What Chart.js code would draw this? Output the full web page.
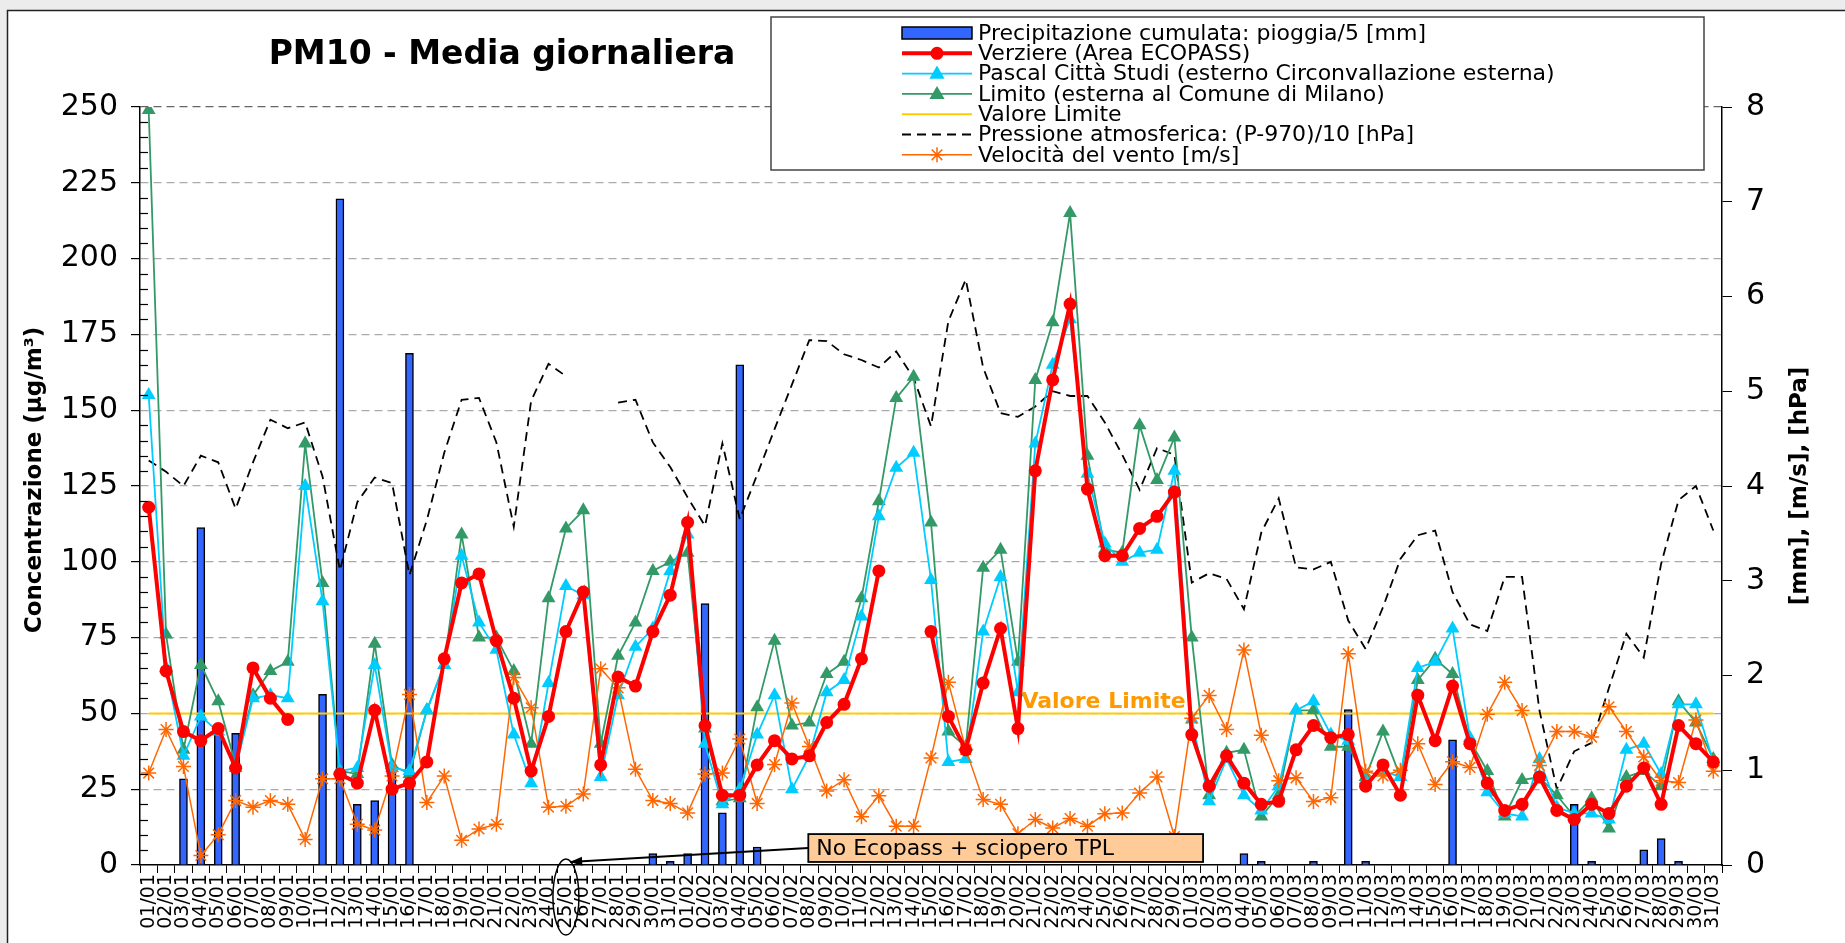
<!DOCTYPE html>
<html>
<head>
<meta charset="utf-8">
<title>PM10 - Media giornaliera</title>
<script src="https://cdn.jsdelivr.net/npm/chart.js@4.4.1/dist/chart.umd.min.js"></script>
<style>
  html, body { margin: 0; padding: 0; background: #ececec; overflow: hidden; }
  canvas { display: block; }
</style>
</head>
<body>
<canvas id="pm10Chart" width="1845" height="943"></canvas>
<script>
// Giorni (01/01 - 31/03/2008)
const giorni = [
  '01/01','02/01','03/01','04/01','05/01','06/01','07/01','08/01','09/01','10/01',
  '11/01','12/01','13/01','14/01','15/01','16/01','17/01','18/01','19/01','20/01',
  '21/01','22/01','23/01','24/01','25/01','26/01','27/01','28/01','29/01','30/01','31/01',
  '01/02','02/02','03/02','04/02','05/02','06/02','07/02','08/02','09/02','10/02',
  '11/02','12/02','13/02','14/02','15/02','16/02','17/02','18/02','19/02','20/02',
  '21/02','22/02','23/02','24/02','25/02','26/02','27/02','28/02','29/02',
  '01/03','02/03','03/03','04/03','05/03','06/03','07/03','08/03','09/03','10/03',
  '11/03','12/03','13/03','14/03','15/03','16/03','17/03','18/03','19/03','20/03',
  '21/03','22/03','23/03','24/03','25/03','26/03','27/03','28/03','29/03','30/03','31/03'
];

// Precipitazione cumulata: pioggia/5 [mm] (asse destro)
const pioggia = [
  null, null, 0.91, 3.56, 1.48, 1.39, null, null, null, null,
  1.80, 7.03, 0.64, 0.68, 1.0, 5.40, null, null, null, null,
  null, null, null, null, null, null, null, null, null, 0.12,
  0.04, 0.12, 2.76, 0.55, 5.28, 0.19, null, null, null, null,
  null, null, null, null, null, null, null, null, null, null,
  null, null, null, null, null, null, null, null, null, null,
  null, null, null, 0.12, 0.04, null, null, 0.04, null, 1.64,
  0.04, null, null, null, null, 1.32, null, null, null, null,
  null, null, 0.64, 0.04, null, null, 0.16, 0.28, 0.04, null,
  null
];

// PM10 [µg/m3]
const verziere = [
  118, 64, 44, 41, 45, 32, 65, 55, 48, null,
  null, 30, 27, 51, 25, 27, 34, 68, 93, 96,
  74, 55, 31, 49, 77, 90, 33, 62, 59, 77,
  89, 113, 46, 23, 23, 33, 41, 35, 36, 47,
  53, 68, 97, null, null, 77, 49, 38, 60, 78,
  45, 130, 160, 185, 124, 102, 102, 111, 115, 123,
  43, 26, 36, 27, 20, 21, 38, 46, 42, 43,
  26, 33, 23, 56, 41, 59, 40, 27, 18, 20,
  29, 18, 15, 20, 17, 26, 32, 20, 46, 40,
  34
];
const pascal = [
  155, 65, 36, 49, 44, 32, 55, 56, 55, 125,
  87, 31, 32, 66, 32, 31, 51, 66, 102, 80,
  71, 43, 27, 60, 92, 89, 29, 56, 72, 78,
  97, 109, 40, 20, 25, 43, 56, 25, 36, 57,
  61, 82, 115, 131, 136, 94, 34, 35, 77, 95,
  57, 139, 165, 180, 129, 106, 100, 103, 104, 130,
  48, 21, 35, 23, 18, 26, 51, 54, 43, 41,
  28, 31, 29, 65, 67, 78, 42, 24, 17, 16,
  35, 19, 17, 17, 15, 38, 40, 30, 53, 53,
  34
];
const limito = [
  249, 76, 38, 66, 54, 33, 56, 64, 67, 139,
  93, 31, 30, 73, 33, 30, 51, 66, 109, 75,
  75, 64, 40, 88, 111, 117, 40, 69, 80, 97,
  100, 103, 45, 21, 22, 52, 74, 46, 47, 63,
  67, 88, 120, 154, 161, 113, 44, 39, 98, 104,
  67, 160, 179, 215, 135, 104, 103, 145, 127, 141,
  75, 23, 37, 38, 16, 23, 51, 51, 39, 39,
  29, 44, 29, 61, 68, 63, 41, 31, 16, 28,
  29, 23, 16, 22, 12, 29, 31, 26, 54, 47,
  35
];
const valoreLimite = [
  50, 50, 50, 50, 50, 50, 50, 50, 50, 50,
  50, 50, 50, 50, 50, 50, 50, 50, 50, 50,
  50, 50, 50, 50, 50, 50, 50, 50, 50, 50,
  50, 50, 50, 50, 50, 50, 50, 50, 50, 50,
  50, 50, 50, 50, 50, 50, 50, 50, 50, 50,
  50, 50, 50, 50, 50, 50, 50, 50, 50, 50,
  50, 50, 50, 50, 50, 50, 50, 50, 50, 50,
  50, 50, 50, 50, 50, 50, 50, 50, 50, 50,
  50, 50, 50, 50, 50, 50, 50, 50, 50, 50,
  50
];

// Meteo (asse destro)
const pressione = [
  4.27, 4.15, 4.0, 4.32, 4.25, 3.76, 4.25, 4.7, 4.61, 4.67,
  4.1, 3.11, 3.83, 4.09, 4.03, 3.06, 3.64, 4.35, 4.91, 4.93,
  4.46, 3.57, 4.9, 5.29, 5.16, null, null, 4.88, 4.91, 4.46,
  4.2, 3.88, 3.58, 4.45, 3.65, 4.12, 4.6, 5.07, 5.54, 5.53,
  5.39, 5.33, 5.25, 5.42, 5.14, 4.63, 5.74, 6.18, 5.25, 4.77,
  4.73, 4.84, 5.0, 4.95, 4.95, 4.67, 4.33, 3.96, 4.4, 4.33,
  2.98, 3.08, 3.02, 2.7, 3.51, 3.87, 3.14, 3.12, 3.2, 2.58,
  2.28, 2.72, 3.23, 3.48, 3.53, 2.88, 2.54, 2.47, 3.04, 3.04,
  1.63, 0.8, 1.2, 1.29, 1.87, 2.44, 2.19, 3.18, 3.85, 4.0,
  3.53
];
const vento = [
  0.97, 1.43, 1.04, 0.10, 0.32, 0.68, 0.61, 0.68, 0.64, 0.27,
  0.91, 0.91, 0.43, 0.37, 0.94, 1.80, 0.66, 0.94, 0.26, 0.38,
  0.43, 1.98, 1.66, 0.61, 0.62, 0.75, 2.07, 1.87, 1.01, 0.68,
  0.65, 0.55, 0.96, 0.97, 1.33, 0.65, 1.06, 1.71, 1.25, 0.78,
  0.90, 0.51, 0.73, 0.41, 0.41, 1.13, 1.93, 1.22, 0.69, 0.64,
  0.33, 0.48, 0.39, 0.49, 0.41, 0.54, 0.55, 0.76, 0.93, 0.30,
  1.55, 1.79, 1.43, 2.27, 1.37, 0.89, 0.92, 0.67, 0.71, 2.23,
  0.99, 0.94, 1.00, 1.28, 0.85, 1.09, 1.03, 1.59, 1.93, 1.63,
  1.05, 1.41, 1.41, 1.35, 1.67, 1.41, 1.14, 0.89, 0.87, 1.53,
  0.99
];

const FONT = 'DejaVu Sans';

// disegna un marker come quelli della legenda
function marker(c, style, x, y, r, fill, stroke) {
  c.save();
  c.fillStyle = fill; c.strokeStyle = stroke; c.lineWidth = 1.5; c.setLineDash([]);
  c.beginPath();
  if (style === 'circle') {
    c.arc(x, y, r, 0, Math.PI * 2); c.fill();
  } else if (style === 'triangle') {
    c.moveTo(x, y - r); c.lineTo(x + r * 0.95, y + r * 0.65); c.lineTo(x - r * 0.95, y + r * 0.65); c.closePath(); c.fill();
  } else if (style === 'star') {
    for (let a = 0; a < 4; a++) {
      const t = a * Math.PI / 4;
      c.moveTo(x - r * Math.cos(t), y - r * Math.sin(t));
      c.lineTo(x + r * Math.cos(t), y + r * Math.sin(t));
    }
    c.stroke();
  }
  c.restore();
}

// cornice, titolo, legenda, annotazioni
const decor = {
  id: 'decor',
  beforeDraw(chart) {
    const c = chart.ctx;
    c.save();
    c.fillStyle = '#ececec';
    c.fillRect(0, 0, chart.width, chart.height);
    c.fillStyle = '#ffffff';
    c.fillRect(7, 10, chart.width - 7, chart.height - 10);
    c.strokeStyle = '#222'; c.lineWidth = 1.5;
    c.beginPath(); c.moveTo(7.5, chart.height); c.lineTo(7.5, 10.5); c.lineTo(chart.width, 10.5); c.stroke();
    c.restore();
  },
  afterDraw(chart) {
    const c = chart.ctx;
    const area = chart.chartArea;
    const xs = chart.scales.x, ys = chart.scales.y;
    c.save();

    // tacche minori asse sinistro
    c.strokeStyle = '#000'; c.lineWidth = 1.2;
    for (let v = 5; v < 250; v += 5) {
      if (v % 25 === 0) continue;
      const py = Math.round(ys.getPixelForValue(v)) + 0.5;
      c.beginPath(); c.moveTo(area.left, py); c.lineTo(area.left + 8, py); c.stroke();
    }

    // titolo
    c.fillStyle = '#000';
    c.font = 'bold 33px "' + FONT + '"';
    c.textAlign = 'center'; c.textBaseline = 'middle';
    c.fillText('PM10 - Media giornaliera', 502, 55);

    // titoli assi
    const midY = (area.top + area.bottom) / 2;
    c.font = 'bold 23px "' + FONT + '"';
    c.save(); c.translate(35, midY - 6); c.rotate(-Math.PI / 2);
    c.fillText('Concentrazione (µg/m³)', 0, 0); c.restore();
    c.save(); c.translate(1800, midY); c.rotate(-Math.PI / 2);
    c.fillText('[mm], [m/s], [hPa]', 0, 0); c.restore();

    // etichetta valore limite
    c.font = 'bold 22px "' + FONT + '"';
    c.fillStyle = '#ff9900';
    c.textAlign = 'left'; c.textBaseline = 'alphabetic';
    c.fillText('Valore Limite', xs.getPixelForValue(50.2), ys.getPixelForValue(50) - 5);

    // annotazione No Ecopass
    const bx0 = xs.getPixelForValue(38) - 1, bx1 = xs.getPixelForValue(60.65);
    const by0 = ys.getPixelForValue(10.2), by1 = ys.getPixelForValue(1);
    const tipX = xs.getPixelForValue(24) + 4, tipY = area.bottom - 3;
    const fromY = ys.getPixelForValue(5.6);
    c.strokeStyle = '#000'; c.lineWidth = 2;
    c.beginPath(); c.moveTo(bx0, fromY); c.lineTo(tipX, tipY); c.stroke();
    const ang = Math.atan2(tipY - fromY, tipX - bx0);
    c.fillStyle = '#000';
    c.beginPath();
    c.moveTo(tipX, tipY);
    c.lineTo(tipX - 13 * Math.cos(ang - 0.35), tipY - 13 * Math.sin(ang - 0.35));
    c.lineTo(tipX - 13 * Math.cos(ang + 0.35), tipY - 13 * Math.sin(ang + 0.35));
    c.closePath(); c.fill();
    c.fillStyle = '#ffcc99';
    c.fillRect(bx0, by0, bx1 - bx0, by1 - by0);
    c.lineWidth = 1.8; c.strokeRect(bx0, by0, bx1 - bx0, by1 - by0);
    c.fillStyle = '#000';
    c.font = '22px "' + FONT + '"';
    c.textBaseline = 'middle';
    c.fillText('No Ecopass + sciopero TPL', bx0 + 8, (by0 + by1) / 2 + 1);
    // ellisse sulla data 25/01
    c.lineWidth = 1.5;
    c.beginPath(); c.ellipse(xs.getPixelForValue(24), 897, 13, 38, 0, 0, Math.PI * 2); c.stroke();

    // legenda
    const lx = 771, ly = 17, lw = 933, lh = 153;
    c.fillStyle = '#fff'; c.fillRect(lx, ly, lw, lh);
    c.strokeStyle = '#444'; c.lineWidth = 1.5; c.strokeRect(lx, ly, lw, lh);
    c.font = '22px "' + FONT + '"';
    c.textAlign = 'left'; c.textBaseline = 'middle';
    chart.data.datasets.forEach((ds, i) => {
      const ry = 33 + i * 20.3;
      const sx0 = 902, sx1 = 972, sm = 937;
      if (ds.type === 'bar') {
        c.fillStyle = ds.backgroundColor; c.fillRect(sx0, ry - 6, sx1 - sx0, 12);
        c.strokeStyle = '#000'; c.lineWidth = 1.5; c.setLineDash([]); c.strokeRect(sx0, ry - 6, sx1 - sx0, 12);
      } else {
        c.strokeStyle = ds.borderColor; c.lineWidth = ds.borderWidth;
        c.setLineDash(ds.borderDash || []);
        c.beginPath(); c.moveTo(sx0, ry); c.lineTo(sx1, ry); c.stroke();
        c.setLineDash([]);
        if (ds.pointRadius > 0) marker(c, ds.pointStyle, sm, ry, ds.pointRadius, ds.pointBackgroundColor, ds.pointBorderColor);
      }
      c.fillStyle = '#000';
      c.fillText(ds.label, 978, ry + 1);
    });
    c.restore();
  }
};

const ctx = document.getElementById('pm10Chart').getContext('2d');
const pm10Chart = new Chart(ctx, {
  type: 'bar',
  data: {
    labels: giorni,
    datasets: [{
      type: 'bar',
      label: 'Precipitazione cumulata: pioggia/5 [mm]',
      data: pioggia,
      yAxisID: 'y1',
      backgroundColor: '#3366ff',
      borderColor: '#000',
      borderWidth: 1.5,
      barThickness: 8,
      order: 10
    }, {
      type: 'line',
      label: 'Verziere (Area ECOPASS)',
      data: verziere,
      yAxisID: 'y',
      borderColor: '#ff0000',
      borderWidth: 4,
      pointStyle: 'circle',
      pointRadius: 6.5,
      pointBackgroundColor: '#ff0000',
      pointBorderColor: '#ff0000',
      pointBorderWidth: 0,
      order: 1
    }, {
      type: 'line',
      label: 'Pascal Città Studi (esterno Circonvallazione esterna)',
      data: pascal,
      yAxisID: 'y',
      borderColor: '#00ccff',
      borderWidth: 1.8,
      pointStyle: 'triangle',
      pointRadius: 8,
      pointBackgroundColor: '#00ccff',
      pointBorderColor: '#00ccff',
      pointBorderWidth: 0,
      order: 3
    }, {
      type: 'line',
      label: 'Limito (esterna al Comune di Milano)',
      data: limito,
      yAxisID: 'y',
      borderColor: '#339966',
      borderWidth: 1.8,
      pointStyle: 'triangle',
      pointRadius: 8,
      pointBackgroundColor: '#339966',
      pointBorderColor: '#339966',
      pointBorderWidth: 0,
      order: 4
    }, {
      type: 'line',
      label: 'Valore Limite',
      data: valoreLimite,
      yAxisID: 'y',
      borderColor: '#ffcc00',
      borderWidth: 2,
      pointRadius: 0,
      order: 6
    }, {
      type: 'line',
      label: 'Pressione atmosferica: (P-970)/10 [hPa]',
      data: pressione,
      yAxisID: 'y1',
      borderColor: '#000',
      borderWidth: 1.8,
      borderDash: [9, 6],
      pointRadius: 0,
      order: 5
    }, {
      type: 'line',
      label: 'Velocità del vento [m/s]',
      data: vento,
      yAxisID: 'y1',
      borderColor: '#ff6600',
      borderWidth: 1.5,
      pointStyle: 'star',
      pointRadius: 7.5,
      pointBackgroundColor: '#ff6600',
      pointBorderColor: '#ff6600',
      pointBorderWidth: 1.5,
      order: 2
    }]
  },
  options: {
    responsive: false,
    animation: false,
    events: [],
    layout: { padding: { top: 107, left: 0, right: 0, bottom: 0 } },
    plugins: {
      legend: { display: false },
      title: { display: false },
      tooltip: { enabled: false }
    },
    scales: {
      x: {
        offset: true,
        grid: { offset: true, drawOnChartArea: false, color: '#000', tickLength: 8 },
        border: { color: '#000', width: 1.5 },
        ticks: {
          autoSkip: false, maxRotation: 90, minRotation: 90, padding: 1,
          color: '#000', font: { family: FONT, size: 19 }
        },
        afterFit: function(scale) { scale.height = 78; }
      },
      y: {
        position: 'left',
        min: 0, max: 250,
        ticks: { stepSize: 25, padding: 13, color: '#000', font: { family: FONT, size: 30 } },
        grid: {
          color: function(c) {
            if (c.tick.value === 0) return 'rgba(0,0,0,0)';
            return c.tick.value === 250 ? '#666' : '#aaa';
          },
          tickColor: '#000', tickLength: 9, lineWidth: 1.2
        },
        border: { color: '#000', width: 1.5, dash: [8, 5] },
        afterFit: function(scale) { scale.width = 140; }
      },
      y1: {
        position: 'right',
        min: 0, max: 8,
        ticks: { stepSize: 1, padding: 14, color: '#000', font: { family: FONT, size: 30 } },
        grid: { drawOnChartArea: false, color: '#000', tickLength: 10 },
        border: { color: '#000', width: 1.5 },
        afterFit: function(scale) { scale.width = 123; }
      }
    }
  },
  plugins: [decor]
});
</script>
</body>
</html>
